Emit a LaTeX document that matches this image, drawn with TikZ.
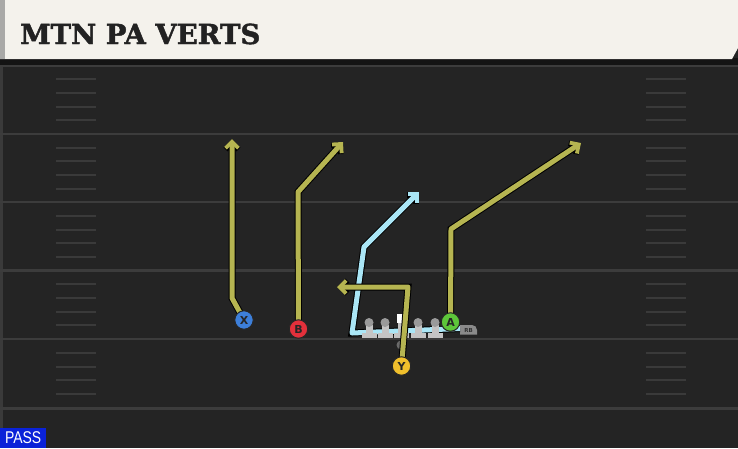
\documentclass[tikz,border=0pt]{standalone}
\usepackage{fontspec}
\setmainfont{DejaVu Sans}
\newfontfamily\titlefont[BoldFeatures={FakeBold=1.6}]{DejaVu Serif}
\newfontfamily\passfont{Liberation Sans}
\usetikzlibrary{arrows.meta}
\definecolor{fieldbg}{HTML}{242424}
\definecolor{edgecol}{HTML}{3A3A3A}
\definecolor{yardcol}{HTML}{3C3C3C}
\definecolor{hashcol}{HTML}{3A3A3A}
\definecolor{cream}{HTML}{F4F2EC}
\definecolor{creamedge}{HTML}{A9A9A7}
\definecolor{shadow}{HTML}{141414}
\definecolor{titlecol}{HTML}{222222}
\definecolor{passblue}{HTML}{0A22D8}
\definecolor{olive}{HTML}{B6B551}
\definecolor{lblue}{HTML}{AAE6F6}
\definecolor{xblue}{HTML}{3D7FD9}
\definecolor{bred}{HTML}{E3303B}
\definecolor{agreen}{HTML}{5DC63A}
\definecolor{yyellow}{HTML}{F0BF2C}
\definecolor{lmhead}{HTML}{9A9A9A}
\definecolor{lmbody}{HTML}{C4C4C4}
\definecolor{rbgray}{HTML}{8A8A8A}
\definecolor{qbdot}{HTML}{6A6A6A}
\tikzset{
  yard/.style={draw=yardcol, line width=2.4pt},
  hashline/.style={draw=hashcol, line width=2pt},
  route/.style={draw=olive, line width=5pt, line join=round,
    -{Straight Barb[length=6.5pt,width=13pt,line width=3.8pt]},
    preaction={draw=black, line width=7pt, -{Straight Barb[length=6.5pt,width=13pt,line width=5.6pt]}}},
  bluer/.style={route, draw=lblue},
  player/.style={circle, draw=black!85, line width=1pt, minimum size=18.5pt, inner sep=0pt,
    font=\bfseries\fontsize{11}{11}\selectfont, text=black!85},
}
\begin{document}
\begin{tikzpicture}[x=1pt,y=-1pt]
\useasboundingbox (0,0) rectangle (738,448);
\fill[fieldbg] (0,0) rectangle (738,448);
\fill[edgecol] (0,0) rectangle (2.5,448);
% yard lines
\foreach \yy in {65.5,133.8,202.2,270.6,339.2,408.5} \draw[yard] (0,\yy) -- (738,\yy);
% hash marks
\foreach \b in {65.5,133.8,202.2,270.6,339.2} {
  \foreach \k in {1,...,4} {
    \draw[hashline] (56,{\b+\k*13.7}) -- (96,{\b+\k*13.7});
    \draw[hashline] (646,{\b+\k*13.7}) -- (686,{\b+\k*13.7});
  }
}
% header
\fill[shadow] (0,58) rectangle (738,64.5);
\fill[cream] (0,0) -- (738,0) -- (738,48) -- (732,59) -- (0,59) -- cycle;
\fill[creamedge] (0,0) rectangle (5,59);
\node[anchor=base west, inner sep=0pt, text=titlecol,
  font=\titlefont\bfseries\fontsize{27.5}{27.5}\selectfont] (title) at (20,44) {MTN PA VERTS};
% PASS tag
\node[fill=passblue, text=white, anchor=south west, inner sep=0pt, minimum width=46pt,
  minimum height=20pt, font=\passfont\fontsize{17}{17}\selectfont] (pass) at (0,448) {\scalebox{0.82}[1]{PASS}};

% players (positions)
\coordinate (Xc) at (244,320);
\coordinate (Bc) at (298.5,329);
\coordinate (Ac) at (450.5,322);
\coordinate (Yc) at (401.5,366);

% RB tag
\fill[rbgray] (460,334.5) -- (460,325) [rounded corners=5pt] -- (477,325) [sharp corners] -- (477,334.5) -- cycle;
\node[inner sep=0pt, font=\bfseries\fontsize{5.5}{5.5}\selectfont, text=black!80] (RB) at (468.5,330) {RB};

% RB (light blue) route
\coordinate (r1) at (352,333);
\coordinate (r2) at (364,247);
\coordinate (r3) at (419,192);
\draw[bluer] (460,328.5) -- (r1) -- (r2) -- (r3);

% QB dot
\fill[qbdot] (401,345) circle (4.5);

% offensive line
\foreach \xx in {369,385,418,435} {
  \fill[lmbody] (\xx-3.5,325) rectangle (\xx+3.5,333);
  \fill[lmbody] (\xx-7.5,333) rectangle (\xx+7.5,337.5);
  \fill[lmhead] (\xx,322.5) circle (4.5);
}
\fill[lmbody] (397.5,323) rectangle (404.5,333);
\fill[lmbody] (394,333) rectangle (409,337.5);
\fill[white] (397,313.5) rectangle (406.5,323);

% routes
\coordinate (x1) at (232,298);
\coordinate (x2) at (232,139);
\coordinate (b1) at (298,192);
\coordinate (b2) at (343,142);
\coordinate (a1) at (451,229);
\coordinate (a2) at (581,143);
\coordinate (y1) at (408,287);
\coordinate (y2) at (337,287);
\draw[route] (Xc) -- (x1) -- (x2);
\draw[route] (Bc) -- (b1) -- (b2);
\draw[route] (Ac) -- (a1) -- (a2);
\draw[route] (Yc) -- (y1) -- (y2);

% player circles
\node[player, fill=xblue] (X) at (Xc) {X};
\node[player, fill=bred] (B) at (Bc) {B};
\node[player, fill=agreen] (A) at (Ac) {A};
\node[player, fill=yyellow] (Y) at (Yc) {Y};
\end{tikzpicture}
\end{document}
